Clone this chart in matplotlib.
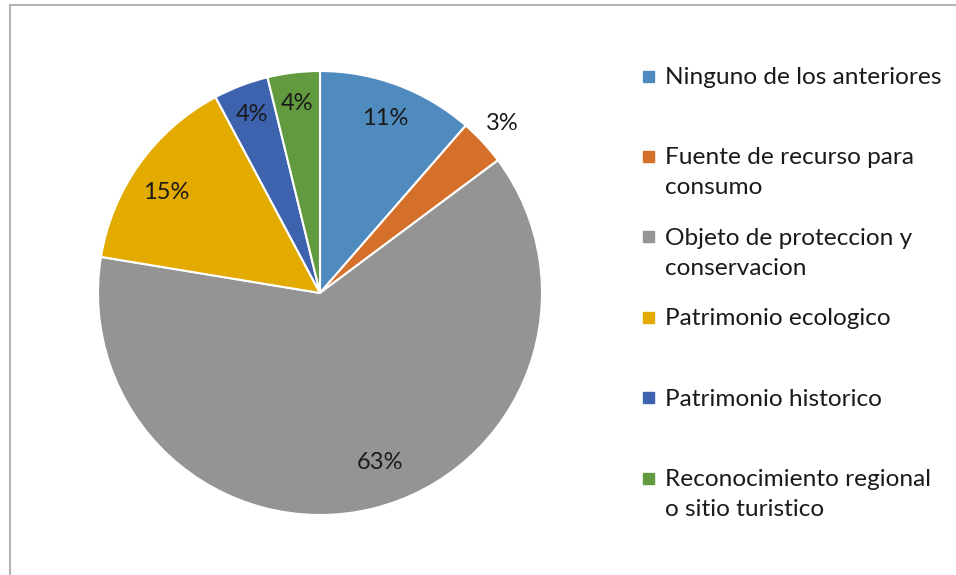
import matplotlib
matplotlib.use("Agg")
import matplotlib.pyplot as plt
from matplotlib.patches import Rectangle
from matplotlib.lines import Line2D
import numpy as np

categories = ["Ninguno de los anteriores", "Fuente de recurso para\nconsumo",
              "Objeto de proteccion y\nconservacion", "Patrimonio ecologico",
              "Patrimonio historico", "Reconocimiento regional\no sitio turistico"]
values = [11.4, 3.4, 62.8, 14.6, 4.0, 3.8]
colors = ["#4F8BBE", "#D5702B", "#949494", "#E3AA00", "#3D62AE", "#629A3F"]

plt.rcParams['font.family'] = ['Lato', 'DejaVu Sans']

W, H = 956, 575
fig = plt.figure(figsize=(W/100, H/100), dpi=100)

cx, cy, r = 320, 293, 222
ax = fig.add_axes([(cx - r)/W, (H - cy - r)/H, 2*r/W, 2*r/H])
wedges, texts, autotexts = ax.pie(values, colors=colors, startangle=90, counterclock=False,
                                  autopct='%1.0f%%', pctdistance=0.84,
                                  wedgeprops=dict(edgecolor='white', linewidth=1.5),
                                  textprops=dict(fontsize=17, color='#1a1a1a'))
# label placement tweaks (best-fit style): radius and angle shift in degrees
label_r = [0.84, 1.12, 0.81, 0.83, 0.86, 0.86]
label_shift = [0, 0, 5.7, 2.5, 0, 0]
for w, t, rr, sh in zip(wedges, autotexts, label_r, label_shift):
    ang = np.deg2rad((w.theta1 + w.theta2) / 2 + sh)
    t.set_position((rr*np.cos(ang), rr*np.sin(ang)))
ax.set_xlim(-1, 1)
ax.set_ylim(-1, 1)
ax.set_aspect('equal')
ax.axis('off')

# frame lines (top and left)
fig.add_artist(Line2D([10/W, 1], [1 - 5/H, 1 - 5/H], color='#B4B4B4', lw=1.5, transform=fig.transFigure))
fig.add_artist(Line2D([10/W, 10/W], [0, 1 - 5/H], color='#B4B4B4', lw=1.5, transform=fig.transFigure))

# legend
ly0, dy, lh = 76, 80.4, 30
for i, (lab, col) in enumerate(zip(categories, colors)):
    y = ly0 + i*dy
    fig.add_artist(Rectangle((643/W, (H - y - 5.5)/H), 11/W, 11/H, color=col,
                             transform=fig.transFigure))
    for j, line in enumerate(lab.split("\n")):
        fig.text(665/W, (H - (y + 8 + j*lh))/H, line, fontsize=17.6, color='#1a1a1a',
                 va='baseline', ha='left')
fig.savefig("out.png", dpi=100)
